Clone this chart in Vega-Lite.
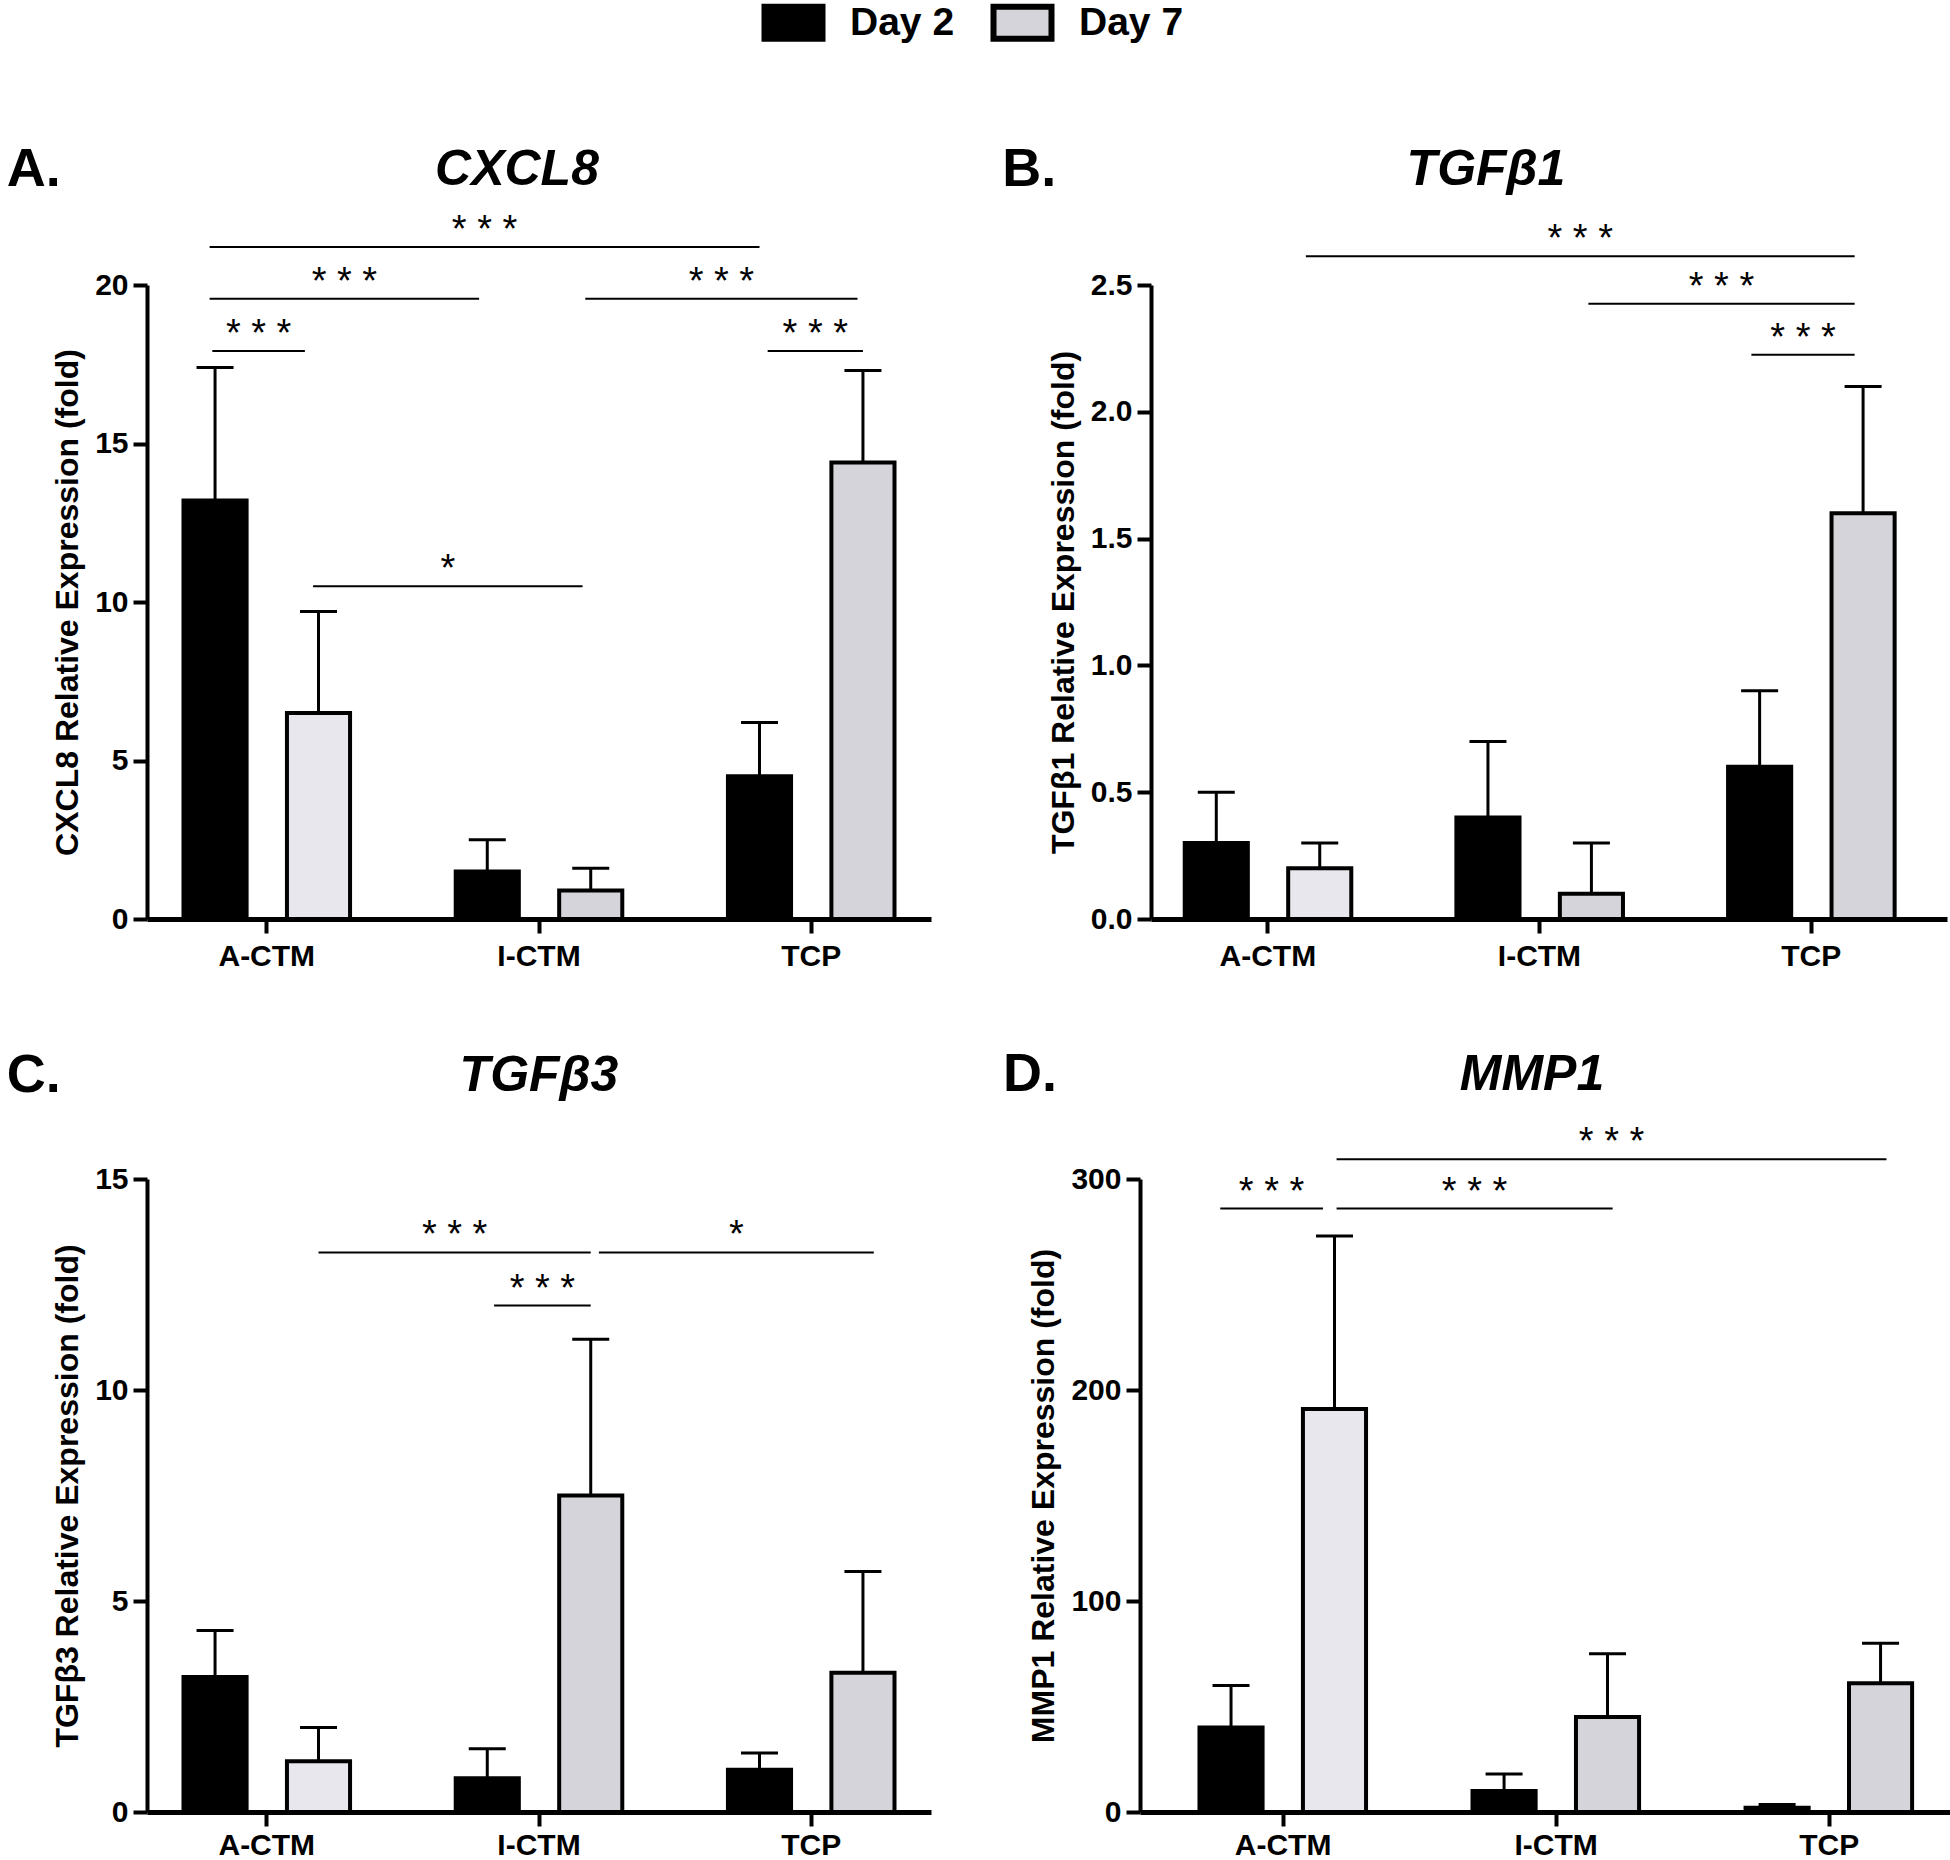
{
  "$schema": "https://vega.github.io/schema/vega-lite/v6.json",
  "background": "white",
  "padding": {"left": 6, "top": 3, "right": 0, "bottom": 0},
  "autosize": {"type": "pad"},
  "datasets": {
    "bars": [
      {"gene": "CXCL8", "group": "A-CTM", "day": "Day 2", "mean": 13.2, "upper": 17.4},
      {"gene": "CXCL8", "group": "A-CTM", "day": "Day 7", "mean": 6.5, "upper": 9.7},
      {"gene": "CXCL8", "group": "I-CTM", "day": "Day 2", "mean": 1.5, "upper": 2.5},
      {"gene": "CXCL8", "group": "I-CTM", "day": "Day 7", "mean": 0.9, "upper": 1.6},
      {"gene": "CXCL8", "group": "TCP", "day": "Day 2", "mean": 4.5, "upper": 6.2},
      {"gene": "CXCL8", "group": "TCP", "day": "Day 7", "mean": 14.4, "upper": 17.3},
      {"gene": "TGFβ1", "group": "A-CTM", "day": "Day 2", "mean": 0.3, "upper": 0.5},
      {"gene": "TGFβ1", "group": "A-CTM", "day": "Day 7", "mean": 0.2, "upper": 0.3},
      {"gene": "TGFβ1", "group": "I-CTM", "day": "Day 2", "mean": 0.4, "upper": 0.7},
      {"gene": "TGFβ1", "group": "I-CTM", "day": "Day 7", "mean": 0.1, "upper": 0.3},
      {"gene": "TGFβ1", "group": "TCP", "day": "Day 2", "mean": 0.6, "upper": 0.9},
      {"gene": "TGFβ1", "group": "TCP", "day": "Day 7", "mean": 1.6, "upper": 2.1},
      {"gene": "TGFβ3", "group": "A-CTM", "day": "Day 2", "mean": 3.2, "upper": 4.3},
      {"gene": "TGFβ3", "group": "A-CTM", "day": "Day 7", "mean": 1.2, "upper": 2.0},
      {"gene": "TGFβ3", "group": "I-CTM", "day": "Day 2", "mean": 0.8, "upper": 1.5},
      {"gene": "TGFβ3", "group": "I-CTM", "day": "Day 7", "mean": 7.5, "upper": 11.2},
      {"gene": "TGFβ3", "group": "TCP", "day": "Day 2", "mean": 1.0, "upper": 1.4},
      {"gene": "TGFβ3", "group": "TCP", "day": "Day 7", "mean": 3.3, "upper": 5.7},
      {"gene": "MMP1", "group": "A-CTM", "day": "Day 2", "mean": 40, "upper": 60},
      {"gene": "MMP1", "group": "A-CTM", "day": "Day 7", "mean": 191, "upper": 273},
      {"gene": "MMP1", "group": "I-CTM", "day": "Day 2", "mean": 10, "upper": 18},
      {"gene": "MMP1", "group": "I-CTM", "day": "Day 7", "mean": 45, "upper": 75},
      {"gene": "MMP1", "group": "TCP", "day": "Day 2", "mean": 2, "upper": 3.5},
      {"gene": "MMP1", "group": "TCP", "day": "Day 7", "mean": 61, "upper": 80}
    ],
    "sig": [
      {"gene": "CXCL8", "cmp": "a1", "x": 0.79, "y": 21.2, "label": "* * *"},
      {"gene": "CXCL8", "cmp": "a1", "x": 2.81, "y": 21.2, "label": "* * *"},
      {"gene": "CXCL8", "cmp": "a2", "x": 0.79, "y": 19.57, "label": "* * *"},
      {"gene": "CXCL8", "cmp": "a2", "x": 1.78, "y": 19.57, "label": "* * *"},
      {"gene": "CXCL8", "cmp": "a3", "x": 2.17, "y": 19.57, "label": "* * *"},
      {"gene": "CXCL8", "cmp": "a3", "x": 3.17, "y": 19.57, "label": "* * *"},
      {"gene": "CXCL8", "cmp": "a4", "x": 0.8, "y": 17.92, "label": "* * *"},
      {"gene": "CXCL8", "cmp": "a4", "x": 1.14, "y": 17.92, "label": "* * *"},
      {"gene": "CXCL8", "cmp": "a5", "x": 2.84, "y": 17.92, "label": "* * *"},
      {"gene": "CXCL8", "cmp": "a5", "x": 3.19, "y": 17.92, "label": "* * *"},
      {"gene": "CXCL8", "cmp": "a6", "x": 1.17, "y": 10.5, "label": "*"},
      {"gene": "CXCL8", "cmp": "a6", "x": 2.16, "y": 10.5, "label": "*"},
      {"gene": "TGFβ1", "cmp": "b1", "x": 1.14, "y": 2.613, "label": "* * *"},
      {"gene": "TGFβ1", "cmp": "b1", "x": 3.16, "y": 2.613, "label": "* * *"},
      {"gene": "TGFβ1", "cmp": "b2", "x": 2.18, "y": 2.426, "label": "* * *"},
      {"gene": "TGFβ1", "cmp": "b2", "x": 3.16, "y": 2.426, "label": "* * *"},
      {"gene": "TGFβ1", "cmp": "b3", "x": 2.78, "y": 2.225, "label": "* * *"},
      {"gene": "TGFβ1", "cmp": "b3", "x": 3.16, "y": 2.225, "label": "* * *"},
      {"gene": "TGFβ3", "cmp": "c1", "x": 1.19, "y": 13.26, "label": "* * *"},
      {"gene": "TGFβ3", "cmp": "c1", "x": 2.19, "y": 13.26, "label": "* * *"},
      {"gene": "TGFβ3", "cmp": "c2", "x": 2.22, "y": 13.26, "label": "*"},
      {"gene": "TGFβ3", "cmp": "c2", "x": 3.23, "y": 13.26, "label": "*"},
      {"gene": "TGFβ3", "cmp": "c3", "x": 1.835, "y": 12.0, "label": "* * *"},
      {"gene": "TGFβ3", "cmp": "c3", "x": 2.19, "y": 12.0, "label": "* * *"},
      {"gene": "MMP1", "cmp": "d1", "x": 0.77, "y": 286, "label": "* * *"},
      {"gene": "MMP1", "cmp": "d1", "x": 1.146, "y": 286, "label": "* * *"},
      {"gene": "MMP1", "cmp": "d2", "x": 1.196, "y": 286, "label": "* * *"},
      {"gene": "MMP1", "cmp": "d2", "x": 2.207, "y": 286, "label": "* * *"},
      {"gene": "MMP1", "cmp": "d3", "x": 1.196, "y": 309.4, "label": "* * *"},
      {"gene": "MMP1", "cmp": "d3", "x": 3.21, "y": 309.4, "label": "* * *"}
    ]
  },
  "vconcat": [
    {
      "hconcat": [
        {
          "title": {"text": "A.", "anchor": "start", "dx": -45, "dy": 56, "fontStyle": "normal", "fontSize": 54},
          "vconcat": [
            {
              "title": {"text": "CXCL8", "anchor": "middle", "dx": -22, "fontStyle": "italic", "offset": 17},
              "width": 784, "height": 634,
              "layer": [
                {
                  "data": {"name": "bars"},
                  "transform": [{"filter": "datum.gene == 'CXCL8'"}],
                  "encoding": {
                    "x": {"field": "group", "type": "nominal", "sort": ["A-CTM", "I-CTM", "TCP"], "title": null, "scale": {"paddingInner": 0.2, "paddingOuter": 0.04, "align": 0.5}},
                    "xOffset": {"field": "day", "type": "nominal", "sort": ["Day 2", "Day 7"], "scale": {"paddingInner": 0.39, "paddingOuter": 0.2475}},
                    "y": {"field": "mean", "type": "quantitative", "title": "CXCL8 Relative Expression (fold)", "scale": {"domain": [0, 20], "nice": false}, "axis": {"values": [0, 5, 10, 15, 20]}}
                  },
                  "layer": [
                    {"mark": {"type": "rule", "strokeWidth": 3, "color": "black"}, "encoding": {"y2": {"field": "upper"}}},
                    {"mark": {"type": "tick", "orient": "horizontal", "size": 37, "thickness": 3, "color": "black", "opacity": 1}, "encoding": {"y": {"field": "upper", "type": "quantitative", "title": "CXCL8 Relative Expression (fold)", "scale": {"domain": [0, 20], "nice": false}, "axis": {"values": [0, 5, 10, 15, 20]}}}},
                    {"mark": {"type": "bar", "stroke": "black", "strokeWidth": 4, "opacity": 1},
                     "encoding": {"fill": {"condition": {"test": "datum.group == 'A-CTM' && datum.day == 'Day 7'", "value": "#e7e7ed"}, "field": "day", "type": "nominal", "scale": {"domain": ["Day 2", "Day 7"], "range": ["#000000", "#d4d4da"]},
                       "legend": {"title": null, "orient": "none", "legendX": 627, "legendY": -282, "direction": "horizontal", "symbolType": "M-1.8125,-1H1.8125V1H-1.8125Z", "symbolSize": 1024, "symbolStrokeColor": "black", "symbolStrokeWidth": 6, "labelFontSize": 39, "labelFontWeight": "bold", "labelFont": "Liberation Sans", "labelColor": "black", "labelOffset": 37, "columnPadding": 26}}}}
                  ]
                },
                {
                  "data": {"name": "sig"},
                  "transform": [{"filter": "datum.gene == 'CXCL8'"}],
                  "layer": [
                    {"mark": {"type": "line", "strokeWidth": 2, "color": "black"},
                     "encoding": {"x": {"field": "x", "type": "quantitative", "scale": {"domain": [0.56, 3.44], "nice": false, "zero": false}, "axis": null},
                                  "y": {"field": "y", "type": "quantitative", "title": "CXCL8 Relative Expression (fold)", "scale": {"domain": [0, 20], "nice": false}, "axis": {"values": [0, 5, 10, 15, 20]}},
                                  "detail": {"field": "cmp"}}},
                    {"mark": {"type": "text", "baseline": "alphabetic", "dy": -5, "fontSize": 38, "color": "black"},
                     "encoding": {"x": {"aggregate": "mean", "field": "x", "type": "quantitative", "scale": {"domain": [0.56, 3.44], "nice": false, "zero": false}, "axis": null},
                                  "y": {"aggregate": "mean", "field": "y", "type": "quantitative", "title": "CXCL8 Relative Expression (fold)", "scale": {"domain": [0, 20], "nice": false}, "axis": {"values": [0, 5, 10, 15, 20]}},
                                  "text": {"field": "label"}, "detail": {"field": "cmp"}}}
                  ]
                }
              ],
              "resolve": {"scale": {"x": "independent"}}
            }
          ]
        },
        {
          "title": {"text": "B.", "anchor": "start", "dx": -45, "dy": 56, "fontStyle": "normal", "fontSize": 54},
          "vconcat": [
            {
              "title": {"text": "TGFβ1", "anchor": "middle", "dx": -63, "fontStyle": "italic", "offset": 26},
              "width": 796, "height": 634,
              "layer": [
                {
                  "data": {"name": "bars"},
                  "transform": [{"filter": "datum.gene == 'TGFβ1'"}],
                  "encoding": {
                    "x": {"field": "group", "type": "nominal", "sort": ["A-CTM", "I-CTM", "TCP"], "title": null, "scale": {"paddingInner": 0.2, "paddingOuter": 0.065, "align": 0.23}},
                    "xOffset": {"field": "day", "type": "nominal", "sort": ["Day 2", "Day 7"], "scale": {"paddingInner": 0.39, "paddingOuter": 0.2475}},
                    "y": {"field": "mean", "type": "quantitative", "title": "TGFβ1 Relative Expression (fold)", "scale": {"domain": [0, 2.5], "nice": false}, "axis": {"values": [0, 0.5, 1, 1.5, 2, 2.5], "format": ".1f"}}
                  },
                  "layer": [
                    {"mark": {"type": "rule", "strokeWidth": 3, "color": "black"}, "encoding": {"y2": {"field": "upper"}}},
                    {"mark": {"type": "tick", "orient": "horizontal", "size": 37, "thickness": 3, "color": "black", "opacity": 1}, "encoding": {"y": {"field": "upper", "type": "quantitative", "title": "TGFβ1 Relative Expression (fold)", "scale": {"domain": [0, 2.5], "nice": false}, "axis": {"values": [0, 0.5, 1, 1.5, 2, 2.5], "format": ".1f"}}}},
                    {"mark": {"type": "bar", "stroke": "black", "strokeWidth": 4, "opacity": 1},
                     "encoding": {"fill": {"condition": {"test": "datum.group == 'A-CTM' && datum.day == 'Day 7'", "value": "#e7e7ed"}, "field": "day", "type": "nominal", "scale": {"domain": ["Day 2", "Day 7"], "range": ["#000000", "#d4d4da"]},
                       "legend": {"title": null, "orient": "none", "legendX": 627, "legendY": -282, "direction": "horizontal", "symbolType": "M-1.8125,-1H1.8125V1H-1.8125Z", "symbolSize": 1024, "symbolStrokeColor": "black", "symbolStrokeWidth": 6, "labelFontSize": 39, "labelFontWeight": "bold", "labelFont": "Liberation Sans", "labelColor": "black", "labelOffset": 37, "columnPadding": 26}}}}
                  ]
                },
                {
                  "data": {"name": "sig"},
                  "transform": [{"filter": "datum.gene == 'TGFβ1'"}],
                  "layer": [
                    {"mark": {"type": "line", "strokeWidth": 2, "color": "black"},
                     "encoding": {"x": {"field": "x", "type": "quantitative", "scale": {"domain": [0.57, 3.5], "nice": false, "zero": false}, "axis": null},
                                  "y": {"field": "y", "type": "quantitative", "title": "TGFβ1 Relative Expression (fold)", "scale": {"domain": [0, 2.5], "nice": false}, "axis": {"values": [0, 0.5, 1, 1.5, 2, 2.5], "format": ".1f"}},
                                  "detail": {"field": "cmp"}}},
                    {"mark": {"type": "text", "baseline": "alphabetic", "dy": -5, "fontSize": 38, "color": "black"},
                     "encoding": {"x": {"aggregate": "mean", "field": "x", "type": "quantitative", "scale": {"domain": [0.57, 3.5], "nice": false, "zero": false}, "axis": null},
                                  "y": {"aggregate": "mean", "field": "y", "type": "quantitative", "title": "TGFβ1 Relative Expression (fold)", "scale": {"domain": [0, 2.5], "nice": false}, "axis": {"values": [0, 0.5, 1, 1.5, 2, 2.5], "format": ".1f"}},
                                  "text": {"field": "label"}, "detail": {"field": "cmp"}}}
                  ]
                }
              ],
              "resolve": {"scale": {"x": "independent"}}
            }
          ]
        }
      ],
      "spacing": 71
    },
    {
      "hconcat": [
        {
          "title": {"text": "C.", "anchor": "start", "dx": -45, "dy": 56, "fontStyle": "normal", "fontSize": 54},
          "vconcat": [
            {
              "title": {"text": "TGFβ3", "anchor": "middle", "dx": 0, "fontStyle": "italic", "offset": 63},
              "width": 784, "height": 633,
              "layer": [
                {
                  "data": {"name": "bars"},
                  "transform": [{"filter": "datum.gene == 'TGFβ3'"}],
                  "encoding": {
                    "x": {"field": "group", "type": "nominal", "sort": ["A-CTM", "I-CTM", "TCP"], "title": null, "scale": {"paddingInner": 0.2, "paddingOuter": 0.04, "align": 0.5}, "axis": {"labelPadding": 4}},
                    "xOffset": {"field": "day", "type": "nominal", "sort": ["Day 2", "Day 7"], "scale": {"paddingInner": 0.39, "paddingOuter": 0.2475}},
                    "y": {"field": "mean", "type": "quantitative", "title": "TGFβ3 Relative Expression (fold)", "scale": {"domain": [0, 15], "nice": false}, "axis": {"values": [0, 5, 10, 15]}}
                  },
                  "layer": [
                    {"mark": {"type": "rule", "strokeWidth": 3, "color": "black"}, "encoding": {"y2": {"field": "upper"}}},
                    {"mark": {"type": "tick", "orient": "horizontal", "size": 37, "thickness": 3, "color": "black", "opacity": 1}, "encoding": {"y": {"field": "upper", "type": "quantitative", "title": "TGFβ3 Relative Expression (fold)", "scale": {"domain": [0, 15], "nice": false}, "axis": {"values": [0, 5, 10, 15]}}}},
                    {"mark": {"type": "bar", "stroke": "black", "strokeWidth": 4, "opacity": 1},
                     "encoding": {"fill": {"condition": {"test": "datum.group == 'A-CTM' && datum.day == 'Day 7'", "value": "#e7e7ed"}, "field": "day", "type": "nominal", "scale": {"domain": ["Day 2", "Day 7"], "range": ["#000000", "#d4d4da"]},
                       "legend": {"title": null, "orient": "none", "legendX": 627, "legendY": -282, "direction": "horizontal", "symbolType": "M-1.8125,-1H1.8125V1H-1.8125Z", "symbolSize": 1024, "symbolStrokeColor": "black", "symbolStrokeWidth": 6, "labelFontSize": 39, "labelFontWeight": "bold", "labelFont": "Liberation Sans", "labelColor": "black", "labelOffset": 37, "columnPadding": 26}}}}
                  ]
                },
                {
                  "data": {"name": "sig"},
                  "transform": [{"filter": "datum.gene == 'TGFβ3'"}],
                  "layer": [
                    {"mark": {"type": "line", "strokeWidth": 2, "color": "black"},
                     "encoding": {"x": {"field": "x", "type": "quantitative", "scale": {"domain": [0.56, 3.44], "nice": false, "zero": false}, "axis": null},
                                  "y": {"field": "y", "type": "quantitative", "title": "TGFβ3 Relative Expression (fold)", "scale": {"domain": [0, 15], "nice": false}, "axis": {"values": [0, 5, 10, 15]}},
                                  "detail": {"field": "cmp"}}},
                    {"mark": {"type": "text", "baseline": "alphabetic", "dy": -5, "fontSize": 38, "color": "black"},
                     "encoding": {"x": {"aggregate": "mean", "field": "x", "type": "quantitative", "scale": {"domain": [0.56, 3.44], "nice": false, "zero": false}, "axis": null},
                                  "y": {"aggregate": "mean", "field": "y", "type": "quantitative", "title": "TGFβ3 Relative Expression (fold)", "scale": {"domain": [0, 15], "nice": false}, "axis": {"values": [0, 5, 10, 15]}},
                                  "text": {"field": "label"}, "detail": {"field": "cmp"}}}
                  ]
                }
              ],
              "resolve": {"scale": {"x": "independent"}}
            }
          ]
        },
        {
          "title": {"text": "D.", "anchor": "start", "dx": -25, "dy": 56, "fontStyle": "normal", "fontSize": 54},
          "vconcat": [
            {
              "title": {"text": "MMP1", "anchor": "middle", "dx": -14, "fontStyle": "italic", "offset": 24},
              "width": 812, "height": 633,
              "layer": [
                {
                  "data": {"name": "bars"},
                  "transform": [{"filter": "datum.gene == 'MMP1'"}],
                  "encoding": {
                    "x": {"field": "group", "type": "nominal", "sort": ["A-CTM", "I-CTM", "TCP"], "title": null, "scale": {"paddingInner": 0.2, "paddingOuter": 0.087, "align": 0.713}, "axis": {"labelPadding": 4}},
                    "xOffset": {"field": "day", "type": "nominal", "sort": ["Day 2", "Day 7"], "scale": {"paddingInner": 0.39, "paddingOuter": 0.2475}},
                    "y": {"field": "mean", "type": "quantitative", "title": "MMP1 Relative Expression (fold)", "scale": {"domain": [0, 300], "nice": false}, "axis": {"values": [0, 100, 200, 300]}}
                  },
                  "layer": [
                    {"mark": {"type": "rule", "strokeWidth": 3, "color": "black"}, "encoding": {"y2": {"field": "upper"}}},
                    {"mark": {"type": "tick", "orient": "horizontal", "size": 37, "thickness": 3, "color": "black", "opacity": 1}, "encoding": {"y": {"field": "upper", "type": "quantitative", "title": "MMP1 Relative Expression (fold)", "scale": {"domain": [0, 300], "nice": false}, "axis": {"values": [0, 100, 200, 300]}}}},
                    {"mark": {"type": "bar", "stroke": "black", "strokeWidth": 4, "opacity": 1},
                     "encoding": {"fill": {"condition": {"test": "datum.group == 'A-CTM' && datum.day == 'Day 7'", "value": "#e7e7ed"}, "field": "day", "type": "nominal", "scale": {"domain": ["Day 2", "Day 7"], "range": ["#000000", "#d4d4da"]},
                       "legend": {"title": null, "orient": "none", "legendX": 627, "legendY": -282, "direction": "horizontal", "symbolType": "M-1.8125,-1H1.8125V1H-1.8125Z", "symbolSize": 1024, "symbolStrokeColor": "black", "symbolStrokeWidth": 6, "labelFontSize": 39, "labelFontWeight": "bold", "labelFont": "Liberation Sans", "labelColor": "black", "labelOffset": 37, "columnPadding": 26}}}}
                  ]
                },
                {
                  "data": {"name": "sig"},
                  "transform": [{"filter": "datum.gene == 'MMP1'"}],
                  "layer": [
                    {"mark": {"type": "line", "strokeWidth": 2, "color": "black"},
                     "encoding": {"x": {"field": "x", "type": "quantitative", "scale": {"domain": [0.476, 3.45], "nice": false, "zero": false}, "axis": null},
                                  "y": {"field": "y", "type": "quantitative", "title": "MMP1 Relative Expression (fold)", "scale": {"domain": [0, 300], "nice": false}, "axis": {"values": [0, 100, 200, 300]}},
                                  "detail": {"field": "cmp"}}},
                    {"mark": {"type": "text", "baseline": "alphabetic", "dy": -5, "fontSize": 38, "color": "black"},
                     "encoding": {"x": {"aggregate": "mean", "field": "x", "type": "quantitative", "scale": {"domain": [0.476, 3.45], "nice": false, "zero": false}, "axis": null},
                                  "y": {"aggregate": "mean", "field": "y", "type": "quantitative", "title": "MMP1 Relative Expression (fold)", "scale": {"domain": [0, 300], "nice": false}, "axis": {"values": [0, 100, 200, 300]}},
                                  "text": {"field": "label"}, "detail": {"field": "cmp"}}}
                  ]
                }
              ],
              "resolve": {"scale": {"x": "independent"}}
            }
          ]
        }
      ],
      "spacing": 71
    }
  ],
  "spacing": 77,
  "config": {
    "view": {"stroke": null},
    "font": "Liberation Sans",
    "axis": {"domainColor": "black", "domainWidth": 4, "tickColor": "black", "tickWidth": 4, "tickSize": 14, "labelFont": "Liberation Sans", "labelFontSize": 30, "labelFontWeight": "bold", "labelColor": "black", "labelPadding": 5, "titleFont": "Liberation Sans", "titleFontSize": 32, "titleFontWeight": "bold", "titleColor": "black", "grid": false},
    "axisX": {"labelPadding": 8, "domainWidth": 5, "labelAngle": 0},
    "axisY": {"titlePadding": 10},
    "title": {"font": "Liberation Sans", "fontSize": 50, "fontWeight": "bold", "color": "black"}
  }
}
